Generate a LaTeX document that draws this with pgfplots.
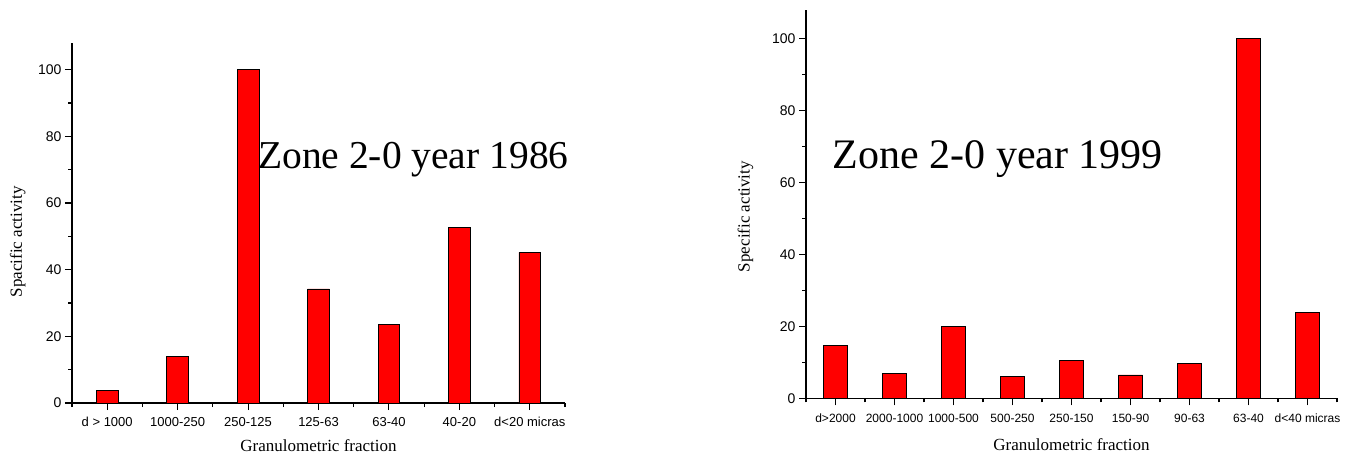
\documentclass[border=0pt]{standalone}
\usepackage{pgfplots}
\pgfplotsset{compat=1.18}
\usepackage{fontspec}
\setmainfont{Liberation Serif}
\newfontfamily\arial{Liberation Sans}
\pgfplotsset{
  zonestyle/.style={
    scale only axis,
    axis lines*=left,
    axis line style={line width=1.2pt,black},
    tick align=outside,
    major tick length=7pt,
    minor tick length=4pt,
    xtick style={black,line width=1.1pt},
    ytick style={black,line width=1.1pt},
    ymin=0, ymax=108,
    ytick={0,20,...,100},
    minor ytick={10,30,...,90},
    /pgf/number format/assume math mode=true,
    yticklabel style={font=\arial\fontsize{14}{14}\selectfont},
    ybar, bar shift=0pt,
    clip=false,
  }
}
\begin{document}
\begin{tikzpicture}
\path[use as bounding box] (0,0) rectangle (1351pt,458pt);
% Left chart
\begin{axis}[zonestyle,
  at={(72pt,55pt)}, anchor=south west,
  width=493pt, height=360pt,
  xmin=0.5, xmax=7.5,
  xtick={1,...,7},
  minor xtick={0.5,1.5,...,7.5},
  xticklabels={d > 1000,1000-250,250-125,125-63,63-40,40-20,d<20 micras},
  xticklabel style={font=\arial\fontsize{13}{13}\selectfont, yshift=-4pt},
  bar width=21.7pt,
  xlabel={Granulometric fraction},
  ylabel={Spacific activity},
  xlabel style={font=\fontsize{17}{17}\selectfont, at={(axis description cs:0.5,-0.119)}, anchor=center},
  ylabel style={font=\fontsize{17}{17}\selectfont, at={(axis description cs:-0.11,0.448)}, anchor=center},
]
\addplot[fill=red, draw=black, line width=0.8pt] coordinates {
(1,3.9) (2,14.0) (3,100) (4,34.2) (5,23.5) (6,52.6) (7,45.2)};
\node[anchor=base west, font=\fontsize{39.5}{39.5}\selectfont, inner sep=0pt] at (axis cs:3.14,70.4) {Zone 2-0 year 1986};
\end{axis}
% Right chart
\begin{axis}[zonestyle,
  at={(806pt,59.7pt)}, anchor=south west,
  width=531pt, height=388.3pt,
  xmin=0.5, xmax=9.5,
  xtick={1,...,9},
  minor xtick={0.5,1.5,...,9.5},
  xticklabels={d>2000,2000-1000,1000-500,500-250,250-150,150-90,90-63,63-40,d<40 micras},
  xticklabel style={font=\arial\fontsize{12}{12}\selectfont, yshift=-5pt},
  bar width=24.3pt,
  xlabel={Granulometric fraction},
  ylabel={Specific activity},
  xlabel style={font=\fontsize{17}{17}\selectfont, at={(axis description cs:0.5,-0.118)}, anchor=center},
  ylabel style={font=\fontsize{17}{17}\selectfont, at={(axis description cs:-0.114,0.468)}, anchor=center},
]
\addplot[fill=red, draw=black, line width=0.8pt] coordinates {
(1,14.6) (2,6.95) (3,19.9) (4,6.1) (5,10.5) (6,6.5) (7,9.7) (8,100) (9,23.8)};
\node[anchor=base west, font=\fontsize{42}{42}\selectfont, inner sep=0pt] at (axis cs:0.95,64) {Zone 2-0 year 1999};
\end{axis}
\end{tikzpicture}
\end{document}
